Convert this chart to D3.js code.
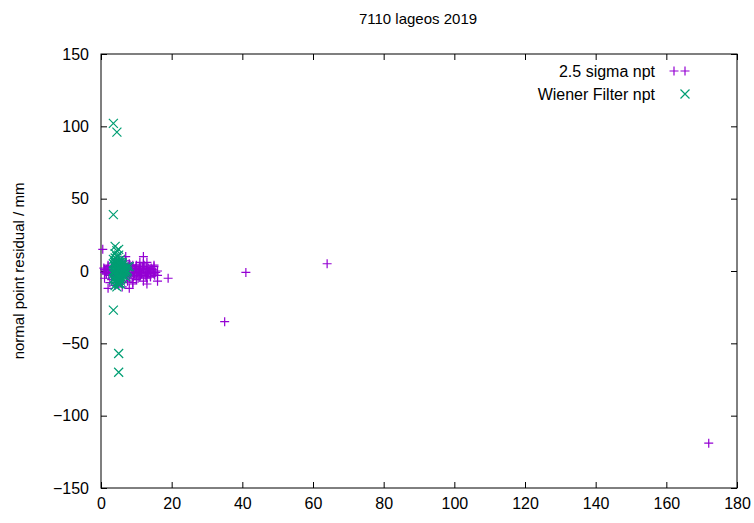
<!DOCTYPE html>
<html><head><meta charset="utf-8">
<script src="https://cdn.jsdelivr.net/npm/d3@7"></script>
<style>body{margin:0;background:#fff}svg{font-family:"Liberation Sans",Arial,sans-serif}</style>
</head><body><svg id="c" width="754" height="523"></svg>
<script>
const xTicks = [0,20,40,60,80,100,120,140,160,180];
const yTicks = [-150,-100,-50,0,50,100,150];
// 2.5 sigma npt: [x, y]
const sigmaX = [0.5,1,0.8,1.5,2,2.5,1.2,3,3.5,4,4.5,5,5.5,6,6.5,7,7.5,8,8.5,9,9.5,10,10.5,11,11.5,12,12.5,13,13.5,14,14.5,15,15.5,16,1,2,3,6,7,8,9,10,11,12,13,14,2,4,6,8,10,12,14,16,5,7,9,11,13,15,3,5,8,11,12,13,19,16,12,35,41,64,172,1.5,2.2,4.2,6.8,9.2,10.8,15,
  7,7.5,8,8.5,9,9.5,10,10.5,11,11.5,12,12.5,13,13.5,14,7.2,8.2,9.2,10.2,11.2,12.2,13.2,14.2,15.2,7.8,8.8,9.8,10.8,11.8,12.8,13.8,14.8,1,1.5,2,2.5,3];
const sigmaY = [15,-5,2,-2,4,-8,0,3,-3,6,-6,2,-4,5,-1,3,-7,1,-3,4,-2,2,-5,1,-1,3,-3,0,2,-2,1,4,-1,0,-1,1,-2,-8,7,-5,-9,4,3,-7,6,-4,-12,-10,-11,5,-6,2,-4,-3,8,10,-8,6,-5,-2,-6,-9,-12,-4,10,-9,-5,-7,5,-35,-1,5,-119,1,-3,-1,3,-1,0,3,
  0,2,-2,3,-1,1,-3,2,0,-2,1,-1,2,0,-1,-4,4,-4,-1,-3,4,-2,2,-3,3,1,2,-2,3,-4,1,-1,1,-2,3,0,-1];
// Wiener Filter npt
const wienerX = [3.5,4.5,3.5,3.5,5,5,4,4.5,5,5.5,6,3.5,4,4.5,5,5.5,6,6.5,3.5,4,4.5,5,5.5,6,7,3.5,4,4.5,5,5.5,6,6.5,7,7.5,3.5,4,4.5,5,5.5,6,3.5,4,4.5,5,5.5,6,6.5,4,4.5,5,5.5,4,5,6,4.5,5,8,7,4,5.5,
  3.8,4.2,4.8,5.2,5.8,6.2,3.8,4.2,4.8,5.2,5.8,6.2,6.8,3.8,4.2,4.8,5.2,5.8,6.2,3.8,4.2,4.8,5.2,5.8,4.2,4.8,5.2,6.8,7.2,7.5];
const wienerY = [102,96,39,-27,-57,-70,17,14,11,8,6,5,4,3,2,1,0,-1,-2,-3,-4,-5,-6,-3,-2,0,1,2,3,4,5,-1,1,0,-6,-7,-8,-9,-7,-5,8,9,10,7,6,4,3,-10,-11,-8,-9,12,15,2,-2,0,3,-4,6,-1,
  0,1,-1,2,-2,1,3,-3,4,-4,3,-3,0,6,-6,5,-5,0,2,-5,7,-7,6,-1,-2,1,-3,2,-1,3];

const svg = d3.select("#c");
const m = {l:101, r:737, t:54, b:488};
const x = d3.scaleLinear().domain([0,180]).range([m.l,m.r]);
const y = d3.scaleLinear().domain([-150,150]).range([m.b,m.t]);

svg.append("rect").attr("x",m.l).attr("y",m.t).attr("width",m.r-m.l).attr("height",m.b-m.t)
  .attr("fill","none").attr("stroke","#000");
const ax = svg.append("g").attr("transform",`translate(0,${m.b})`)
  .call(d3.axisBottom(x).tickValues(xTicks).tickSize(-6).tickPadding(10));
const axT = svg.append("g").attr("transform",`translate(0,${m.t})`)
  .call(d3.axisTop(x).tickValues(xTicks).tickSize(-6).tickFormat(""));
const ay = svg.append("g").attr("transform",`translate(${m.l},0)`)
  .call(d3.axisLeft(y).tickValues(yTicks).tickSize(-6).tickPadding(12));
const ayR = svg.append("g").attr("transform",`translate(${m.r},0)`)
  .call(d3.axisRight(y).tickValues(yTicks).tickSize(-6).tickFormat(""));
[ax,axT,ay,ayR].forEach(g=>{g.select(".domain").remove();g.selectAll("text").attr("font-size",16).attr("fill","#000").attr("font-family","Liberation Sans, Arial");});

svg.append("text").attr("x",418).attr("y",24).attr("text-anchor","middle").attr("font-size",15).text("7110 lageos 2019");
svg.append("text").attr("transform","translate(24,271) rotate(-90)").attr("text-anchor","middle").attr("font-size",15).text("normal point residual / mm");

const purple="#9400d3", green="#009e73";
const plus = (g,cx,cy,c)=>g.append("path").attr("d",`M${cx-4.5},${cy}H${cx+4.5}M${cx},${cy-4.5}V${cy+4.5}`).attr("stroke",c).attr("stroke-width",1.2);
const cross = (g,cx,cy,c)=>g.append("path").attr("d",`M${cx-4.5},${cy-4.5}L${cx+4.5},${cy+4.5}M${cx-4.5},${cy+4.5}L${cx+4.5},${cy-4.5}`).attr("stroke",c).attr("stroke-width",1.2);

const gp = svg.append("g");
sigmaX.forEach((v,i)=>plus(gp,x(v),y(sigmaY[i]),purple));
const gw = svg.append("g");
wienerX.forEach((v,i)=>cross(gw,x(v),y(wienerY[i]),green));

svg.append("text").attr("x",655).attr("y",77).attr("text-anchor","end").attr("font-size",16).text("2.5 sigma npt");
plus(svg,674,71,purple);plus(svg,685,71,purple);
svg.append("text").attr("x",655).attr("y",100).attr("text-anchor","end").attr("font-size",16).text("Wiener Filter npt");
cross(svg,685,94,green);
</script></body></html>
